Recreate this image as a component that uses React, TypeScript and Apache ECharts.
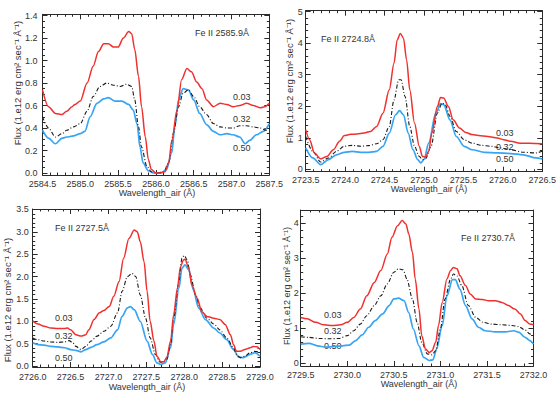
import React, { useEffect, useRef } from "react";
import * as echarts from "echarts";

// ---------- data (wavelength Å, flux 1e12 erg cm^-2 s^-1 Å^-1) ----------
const p1Red = [[2584.50,0.74],[2584.58,0.59],[2584.67,0.53],[2584.76,0.52],[2584.82,0.55],[2584.89,0.59],[2584.93,0.61],[2585.00,0.64],[2585.09,0.80],[2585.17,0.95],[2585.24,1.08],[2585.31,1.15],[2585.37,1.15],[2585.44,1.12],[2585.50,1.12],[2585.57,1.20],[2585.64,1.26],[2585.68,1.24],[2585.72,1.10],[2585.77,0.86],[2585.81,0.59],[2585.86,0.32],[2585.90,0.12],[2585.94,0.03],[2586.00,0.00],[2586.06,0.00],[2586.12,0.01],[2586.17,0.09],[2586.21,0.29],[2586.28,0.56],[2586.34,0.83],[2586.41,0.93],[2586.47,0.90],[2586.54,0.81],[2586.61,0.75],[2586.67,0.65],[2586.76,0.59],[2586.85,0.62],[2586.94,0.61],[2587.02,0.59],[2587.11,0.60],[2587.20,0.62],[2587.29,0.60],[2587.38,0.58],[2587.44,0.59],[2587.50,0.62]];
const p1Mid = [[2584.50,0.50],[2584.58,0.40],[2584.67,0.32],[2584.76,0.35],[2584.82,0.38],[2584.91,0.41],[2585.00,0.44],[2585.09,0.55],[2585.17,0.68],[2585.26,0.77],[2585.35,0.80],[2585.44,0.78],[2585.53,0.77],[2585.61,0.79],[2585.68,0.77],[2585.72,0.65],[2585.77,0.41],[2585.81,0.23],[2585.88,0.06],[2585.94,0.01],[2586.01,0.00],[2586.10,0.01],[2586.17,0.09],[2586.23,0.35],[2586.30,0.59],[2586.36,0.71],[2586.43,0.74],[2586.50,0.68],[2586.58,0.59],[2586.67,0.52],[2586.76,0.44],[2586.85,0.41],[2586.94,0.40],[2587.02,0.40],[2587.11,0.42],[2587.20,0.42],[2587.29,0.41],[2587.38,0.40],[2587.46,0.38],[2587.50,0.40]];
const p1Blue = [[2584.50,0.38],[2584.58,0.31],[2584.67,0.26],[2584.76,0.31],[2584.82,0.32],[2584.91,0.33],[2585.00,0.35],[2585.06,0.37],[2585.13,0.50],[2585.22,0.62],[2585.31,0.66],[2585.37,0.67],[2585.46,0.64],[2585.55,0.64],[2585.64,0.61],[2585.70,0.56],[2585.75,0.44],[2585.79,0.23],[2585.83,0.09],[2585.90,0.02],[2585.97,0.00],[2586.06,0.00],[2586.14,0.03],[2586.21,0.18],[2586.25,0.41],[2586.30,0.65],[2586.36,0.75],[2586.43,0.74],[2586.50,0.65],[2586.58,0.53],[2586.67,0.43],[2586.76,0.37],[2586.85,0.34],[2586.94,0.35],[2587.02,0.34],[2587.11,0.32],[2587.18,0.26],[2587.24,0.29],[2587.33,0.34],[2587.42,0.37],[2587.50,0.44]];

const p2Red = [[2723.50,1.26],[2723.55,0.94],[2723.61,0.52],[2723.69,0.33],[2723.77,0.41],[2723.85,0.62],[2723.93,0.89],[2723.99,1.07],[2724.07,1.11],[2724.15,1.12],[2724.24,1.15],[2724.32,1.20],[2724.40,1.36],[2724.48,1.78],[2724.56,2.52],[2724.62,3.36],[2724.66,4.10],[2724.70,4.31],[2724.74,4.16],[2724.78,3.47],[2724.82,2.52],[2724.88,1.47],[2724.94,0.73],[2724.98,0.41],[2725.02,0.39],[2725.06,0.57],[2725.10,1.15],[2725.17,1.99],[2725.21,2.28],[2725.25,2.26],[2725.31,1.99],[2725.37,1.57],[2725.45,1.31],[2725.53,1.17],[2725.61,1.10],[2725.69,1.07],[2725.81,1.04],[2725.93,0.99],[2726.01,0.94],[2726.10,0.89],[2726.22,0.83],[2726.34,0.83],[2726.50,0.81]];
const p2Mid = [[2723.50,1.04],[2723.59,0.57],[2723.69,0.23],[2723.79,0.36],[2723.89,0.57],[2723.99,0.73],[2724.09,0.76],[2724.20,0.73],[2724.30,0.75],[2724.40,0.81],[2724.48,0.94],[2724.56,1.36],[2724.62,2.20],[2724.68,2.84],[2724.71,2.84],[2724.76,2.31],[2724.82,1.36],[2724.88,0.73],[2724.94,0.41],[2724.98,0.31],[2725.02,0.33],[2725.09,0.73],[2725.17,1.78],[2725.23,2.10],[2725.27,2.05],[2725.33,1.68],[2725.41,1.20],[2725.51,0.94],[2725.61,0.83],[2725.73,0.76],[2725.85,0.73],[2725.97,0.68],[2726.10,0.62],[2726.26,0.54],[2726.42,0.52],[2726.50,0.57]];
const p2Blue = [[2723.50,0.68],[2723.59,0.36],[2723.69,0.15],[2723.79,0.31],[2723.89,0.46],[2723.99,0.54],[2724.09,0.57],[2724.20,0.54],[2724.30,0.54],[2724.40,0.57],[2724.48,0.73],[2724.56,1.15],[2724.64,1.73],[2724.69,1.86],[2724.74,1.73],[2724.80,1.15],[2724.86,0.62],[2724.92,0.31],[2724.96,0.20],[2725.00,0.31],[2725.06,0.83],[2725.15,1.78],[2725.21,2.08],[2725.25,2.05],[2725.33,1.57],[2725.41,1.04],[2725.51,0.73],[2725.61,0.62],[2725.77,0.54],[2725.93,0.52],[2726.10,0.50],[2726.26,0.46],[2726.42,0.36],[2726.50,0.33]];

const p3Red = [[2726.00,1.01],[2726.07,0.94],[2726.15,0.89],[2726.24,0.85],[2726.33,0.84],[2726.42,0.84],[2726.46,0.85],[2726.50,0.81],[2726.57,0.70],[2726.64,0.67],[2726.70,0.70],[2726.74,0.81],[2726.81,1.04],[2726.88,1.19],[2726.94,1.24],[2727.01,1.33],[2727.07,1.56],[2727.14,1.89],[2727.20,2.41],[2727.27,2.85],[2727.34,3.04],[2727.38,3.00],[2727.42,2.78],[2727.47,2.33],[2727.51,1.67],[2727.55,1.00],[2727.60,0.56],[2727.64,0.22],[2727.69,0.10],[2727.73,0.10],[2727.77,0.19],[2727.82,0.56],[2727.86,1.15],[2727.91,1.74],[2727.95,2.22],[2727.99,2.37],[2728.01,2.39],[2728.06,2.19],[2728.10,1.81],[2728.17,1.52],[2728.23,1.22],[2728.30,1.11],[2728.39,1.07],[2728.47,1.04],[2728.54,0.93],[2728.61,0.70],[2728.65,0.48],[2728.69,0.33],[2728.74,0.33],[2728.80,0.37],[2728.87,0.41],[2728.91,0.44],[2728.96,0.43],[2729.00,0.37]];
const p3Mid = [[2726.00,0.63],[2726.07,0.59],[2726.15,0.56],[2726.24,0.54],[2726.33,0.53],[2726.42,0.54],[2726.48,0.57],[2726.53,0.52],[2726.57,0.44],[2726.64,0.37],[2726.70,0.44],[2726.77,0.56],[2726.85,0.67],[2726.94,0.78],[2727.03,0.89],[2727.12,1.19],[2727.18,1.67],[2727.25,2.00],[2727.31,2.07],[2727.36,2.00],[2727.42,1.59],[2727.49,1.07],[2727.55,0.63],[2727.62,0.26],[2727.68,0.09],[2727.73,0.09],[2727.77,0.15],[2727.82,0.48],[2727.86,1.07],[2727.93,1.89],[2727.97,2.41],[2728.00,2.47],[2728.04,2.37],[2728.08,2.04],[2728.15,1.59],[2728.21,1.30],[2728.30,1.07],[2728.39,0.94],[2728.47,0.81],[2728.56,0.63],[2728.65,0.41],[2728.69,0.26],[2728.74,0.19],[2728.80,0.22],[2728.87,0.30],[2728.93,0.33],[2729.00,0.31]];
const p3Blue = [[2726.00,0.52],[2726.07,0.48],[2726.15,0.47],[2726.24,0.44],[2726.33,0.43],[2726.42,0.41],[2726.50,0.37],[2726.57,0.35],[2726.64,0.32],[2726.70,0.37],[2726.77,0.42],[2726.85,0.48],[2726.94,0.54],[2727.03,0.63],[2727.12,0.81],[2727.18,1.11],[2727.25,1.30],[2727.29,1.33],[2727.34,1.26],[2727.42,1.00],[2727.51,0.56],[2727.58,0.26],[2727.64,0.07],[2727.69,0.04],[2727.75,0.07],[2727.82,0.41],[2727.86,0.93],[2727.93,1.74],[2727.97,2.19],[2728.01,2.26],[2728.06,2.15],[2728.12,1.70],[2728.19,1.30],[2728.28,1.04],[2728.39,0.85],[2728.47,0.74],[2728.56,0.59],[2728.65,0.37],[2728.72,0.20],[2728.78,0.19],[2728.87,0.26],[2728.93,0.30],[2729.00,0.22]];

const p4Red = [[2729.50,1.31],[2729.57,1.27],[2729.66,1.17],[2729.75,1.10],[2729.84,1.08],[2729.93,1.10],[2730.00,1.17],[2730.07,1.31],[2730.14,1.55],[2730.21,1.93],[2730.29,2.31],[2730.36,2.65],[2730.43,3.12],[2730.48,3.60],[2730.54,3.93],[2730.59,4.08],[2730.63,3.98],[2730.66,3.70],[2730.70,3.17],[2730.73,2.41],[2730.77,1.55],[2730.80,0.79],[2730.84,0.41],[2730.88,0.31],[2730.91,0.36],[2730.95,0.60],[2730.98,1.08],[2731.02,1.74],[2731.07,2.41],[2731.11,2.65],[2731.14,2.74],[2731.18,2.70],[2731.21,2.50],[2731.27,2.22],[2731.32,1.98],[2731.38,1.84],[2731.45,1.82],[2731.52,1.79],[2731.59,1.79],[2731.66,1.74],[2731.73,1.65],[2731.80,1.55],[2731.86,1.41],[2731.91,1.22],[2731.96,1.12],[2732.00,1.10]];
const p4Mid = [[2729.50,0.76],[2729.59,0.74],[2729.70,0.71],[2729.80,0.70],[2729.91,0.71],[2730.00,0.79],[2730.07,0.93],[2730.14,1.12],[2730.21,1.36],[2730.29,1.65],[2730.36,1.93],[2730.43,2.27],[2730.50,2.60],[2730.55,2.70],[2730.60,2.67],[2730.64,2.41],[2730.70,1.84],[2730.75,1.17],[2730.80,0.60],[2730.86,0.27],[2730.91,0.24],[2730.95,0.36],[2731.00,0.98],[2731.05,1.84],[2731.11,2.41],[2731.14,2.55],[2731.18,2.49],[2731.23,2.22],[2731.30,1.65],[2731.38,1.31],[2731.46,1.17],[2731.55,1.12],[2731.66,1.10],[2731.77,1.08],[2731.84,1.05],[2731.91,0.95],[2731.96,0.84],[2732.00,0.79]];
const p4Blue = [[2729.50,0.55],[2729.59,0.57],[2729.68,0.50],[2729.77,0.46],[2729.86,0.48],[2729.95,0.50],[2730.02,0.52],[2730.09,0.65],[2730.16,0.81],[2730.23,1.03],[2730.30,1.22],[2730.38,1.41],[2730.45,1.65],[2730.50,1.84],[2730.55,1.86],[2730.61,1.79],[2730.66,1.45],[2730.71,0.98],[2730.77,0.50],[2730.82,0.17],[2730.88,0.08],[2730.92,0.10],[2730.96,0.41],[2731.02,1.08],[2731.07,1.93],[2731.13,2.39],[2731.16,2.39],[2731.21,2.12],[2731.27,1.65],[2731.34,1.27],[2731.41,1.03],[2731.48,0.93],[2731.59,0.90],[2731.70,0.90],[2731.79,0.93],[2731.84,0.89],[2731.91,0.74],[2731.96,0.65],[2732.00,0.55]];

const lineTitles = ["Fe II 2585.9Å", "Fe II 2724.8Å", "Fe II 2727.5Å", "Fe II 2730.7Å"];
const seriesLabels = ["0.03", "0.32", "0.50"];
const xRanges = [[2584.5, 2587.5], [2723.5, 2726.5], [2726.0, 2729.0], [2729.5, 2732.0]];
const yRanges = [[-0.018, 1.412], [-0.076, 5.03], [-0.02, 3.51], [-0.077, 4.38]];
const yMajorStep = [0.2, 1, 0.5, 1];
const yMinorStep = [0.05, 0.2, 0.1, 0.2];
const yDecimals = [1, 0, 1, 0];
const xTitle = "Wavelength_air (Å)";
const yTitle = "Flux (1.e12 erg cm² sec⁻¹ Å⁻¹)";

const panelData = [
  [p1Red, p1Mid, p1Blue],
  [p2Red, p2Mid, p2Blue],
  [p3Red, p3Mid, p3Blue],
  [p4Red, p4Mid, p4Blue],
];

// ---------- layout / style ----------
const FONT = "'Liberation Sans', Arial, Helvetica, sans-serif";
const AX = "#2a2a2a";
const TXT = "#333";
const RED = "#f0302e";
const BLUE = "#37a4f4";
const BLK = "#1a1a1a";

const grids = [
  { left: 42.5, top: 14.3, width: 226.8, height: 160.7 },
  { left: 305.7, top: 10.7, width: 246.6, height: 161 },
  { left: 32.7, top: 209, width: 227.3, height: 158 },
  { left: 300.7, top: 210, width: 232.8, height: 156 },
];
const xLabelMargin = [4, 4, 5, 4];
const yLabelMargin = [5, 3, 4, 2];
const xTitlePos = [[157, 193], [429, 189], [147, 387], [419, 384]];
const yTitlePos = [[17, 83, 9.5], [289, 81, 9.5], [7.5, 300, 9.5], [286.5, 286, 9]];
const titlePos = [[195, 33], [321, 39], [55, 228], [461, 238]];
const labelPos = [
  [[233, 97], [233, 119], [233, 148]],
  [[496, 133], [496, 147], [496, 159]],
  [[55, 318], [55, 336], [55, 358]],
  [[324, 315], [324, 331], [324, 346]],
];

function steps(min: number, max: number, step: number): number[] {
  const out: number[] = [];
  const start = Math.ceil(min / step - 1e-9);
  for (let k = start; k * step <= max + 1e-9; k++) out.push(+(k * step).toFixed(6));
  return out;
}

function buildOption() {
  const xAxis: any[] = [];
  const yAxis: any[] = [];
  const series: any[] = [];
  const graphic: any[] = [];

  grids.forEach((g, i) => {
    const [xmin, xmax] = xRanges[i];
    const [ymin, ymax] = yRanges[i];
    const majors = steps(ymin, ymax, yMajorStep[i]);
    const minors = steps(ymin, ymax, yMinorStep[i]).filter(
      (v) => !majors.some((m) => Math.abs(m - v) < 1e-6)
    );
    const xBase = {
      gridIndex: i, type: "value", min: xmin, max: xmax, interval: 0.5,
      axisLine: { show: true, onZero: false, lineStyle: { color: AX, width: 1 } },
      axisTick: { show: true, inside: true, length: 5, lineStyle: { color: AX } },
      minorTick: { show: true, splitNumber: 5, length: 2.5, lineStyle: { color: AX } },
      splitLine: { show: false },
    };
    xAxis.push({
      ...xBase, position: "bottom",
      axisLabel: { show: true, fontSize: 9, fontFamily: FONT, color: TXT, margin: xLabelMargin[i],
        formatter: (v: number) => v.toFixed(1), showMinLabel: true, showMaxLabel: true },
    });
    xAxis.push({ ...xBase, position: "top", axisLabel: { show: false } });

    const yBase = { gridIndex: i, type: "value", min: ymin, max: ymax, splitLine: { show: false } };
    const sides = ["left", "right"];
    sides.forEach((side) => {
      yAxis.push({
        ...yBase, position: side,
        axisLine: { show: true, onZero: false, lineStyle: { color: AX, width: 1 } },
        axisTick: { show: true, inside: true, length: 5, customValues: majors, lineStyle: { color: AX } },
        axisLabel: side === "left"
          ? { show: true, customValues: majors, fontSize: 9, fontFamily: FONT, color: TXT, margin: yLabelMargin[i],
              formatter: (v: number) => v.toFixed(yDecimals[i]) }
          : { show: false },
      });
      yAxis.push({
        ...yBase, position: side,
        axisLine: { show: false },
        axisTick: { show: true, inside: true, length: 2.5, customValues: minors, lineStyle: { color: AX } },
        axisLabel: { show: false },
      });
    });

    const [red, mid, blue] = panelData[i];
    const common = {
      type: "line", xAxisIndex: i * 2, yAxisIndex: i * 4, showSymbol: false, symbol: "none",
      smooth: 0.3, smoothMonotone: "x", clip: true,
    };
    series.push({ ...common, name: `${lineTitles[i]} ${seriesLabels[2]}`, data: blue, z: 2, lineStyle: { color: BLUE, width: 1.7 } });
    series.push({ ...common, name: `${lineTitles[i]} ${seriesLabels[1]}`, data: mid, z: 3, lineStyle: { color: BLK, width: 1.1, type: [4, 2, 1, 2] } });
    series.push({ ...common, name: `${lineTitles[i]} ${seriesLabels[0]}`, data: red, z: 4, lineStyle: { color: RED, width: 1.5 } });

    graphic.push({
      type: "text", x: xTitlePos[i][0], y: xTitlePos[i][1],
      style: { text: xTitle, font: `9px ${FONT}`, fill: TXT, textAlign: "center", textVerticalAlign: "middle" },
    });
    graphic.push({
      type: "text", x: yTitlePos[i][0], y: yTitlePos[i][1], rotation: Math.PI / 2,
      style: { text: yTitle, font: `${yTitlePos[i][2]}px ${FONT}`, fill: TXT, textAlign: "center", textVerticalAlign: "middle" },
    });
    graphic.push({
      type: "text", x: titlePos[i][0], y: titlePos[i][1],
      style: { text: lineTitles[i], font: `9px ${FONT}`, fill: TXT, textAlign: "left", textVerticalAlign: "middle" },
    });
    seriesLabels.forEach((t, k) => {
      graphic.push({
        type: "text", x: labelPos[i][k][0], y: labelPos[i][k][1],
        style: { text: t, font: `9px ${FONT}`, fill: TXT, textAlign: "left", textVerticalAlign: "middle" },
      });
    });
  });

  return {
    animation: false,
    backgroundColor: "#ffffff",
    grid: grids.map((g) => ({ ...g, containLabel: false, show: false })),
    xAxis, yAxis, series, graphic,
  };
}

export default function App() {
  const ref = useRef<HTMLDivElement>(null);
  useEffect(() => {
    if (!ref.current) return;
    const chart = echarts.init(ref.current, undefined, { renderer: "svg" });
    chart.setOption(buildOption() as any);
    return () => chart.dispose();
  }, []);
  return (
    <div
      ref={ref}
      style={{ position: "fixed", left: 0, top: 0, width: 559, height: 399, background: "#fff" }}
    />
  );
}
